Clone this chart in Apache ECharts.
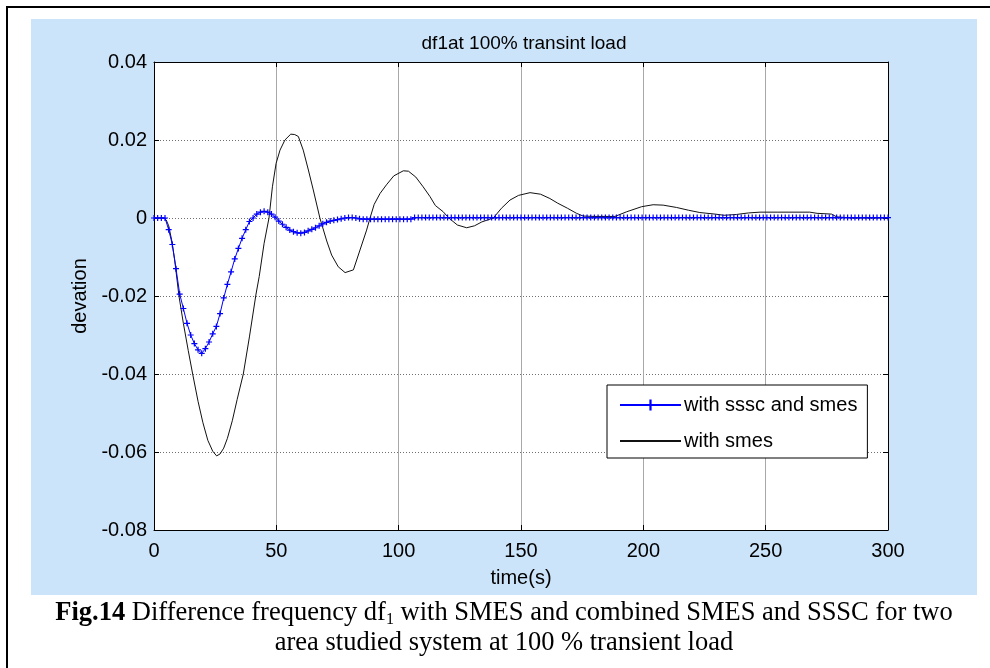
<!DOCTYPE html>
<html>
<head>
<meta charset="utf-8">
<script src="https://cdn.jsdelivr.net/npm/echarts@6/dist/echarts.min.js"></script>
<style>
html,body{margin:0;padding:0;background:#fff;}
#chart{width:990px;height:668px;}
</style>
</head>
<body>
<div id="chart"></div>
<script>
// ---------------- data ----------------
const chartTitle = 'df1at 100% transint load';
const xAxisName = 'time(s)';
const yAxisName = 'devation';
const seriesNames = ['with sssc and smes', 'with smes'];

const xTickValues = [0, 50, 100, 150, 200, 250, 300];
const xTickLabels = ['0', '50', '100', '150', '200', '250', '300'];
const yTickValues = [-0.08, -0.06, -0.04, -0.02, 0, 0.02, 0.04];
const yTickLabels = ['-0.08', '-0.06', '-0.04', '-0.02', '0', '0.02', '0.04'];

// with smes (black)
const smesTime = [0,4,5,6,7.2,8.5,10.2,12,14,15.8,18,20,22,24,25.6,27,28.5,30,32,34,36.5,39,41.7,43,45,47,48.4,49.9,51.5,53.5,55.9,57.5,59,61,63.1,65.1,67.8,70.6,72.6,75.3,78.1,81.5,84.2,86.9,88.3,90,92.4,95,98,101.9,104,107,110,112.8,115,118.2,120.5,124,127.8,131,134,138.7,142,145.5,149,153.7,158,161.8,165,169,172.7,175.4,180,188.4,193.2,199.3,204,208.1,213.6,218.4,223.1,229.3,233,238,243,247.7,255,262,268,271,276.9,279,285,300];
const smesValue = [0,0,-0.0005,-0.002,-0.0056,-0.011,-0.02,-0.027,-0.034,-0.04,-0.047,-0.0525,-0.057,-0.0598,-0.061,-0.0605,-0.059,-0.0565,-0.052,-0.0465,-0.04,-0.0305,-0.0195,-0.015,-0.0065,0,0.008,0.014,0.0174,0.02,0.0215,0.0214,0.0209,0.0174,0.0123,0.0072,0,-0.0059,-0.0095,-0.0125,-0.014,-0.0133,-0.0082,-0.0031,0,0.0035,0.0063,0.0085,0.0108,0.0121,0.012,0.0105,0.008,0.0055,0.0032,0.0016,0,-0.0018,-0.0025,-0.002,-0.001,0,0.0025,0.0046,0.0058,0.0065,0.0061,0.005,0.0038,0.0025,0.0012,0.0005,0.0004,0.0004,0.0016,0.0029,0.0034,0.0033,0.0027,0.002,0.0014,0.001,0.0007,0.0009,0.0013,0.0015,0.0015,0.0015,0.0015,0.0012,0.001,0.0003,0,0];

// with sssc and smes (blue, '+' markers)
const ssscTime = [
  0,1.5,3,4.5,6,7.5,9,10.5,12,13.5,
  15,16.5,18,19.5,21,22.5,24,25.5,27,28.5,
  30,31.5,33,34.5,36,37.5,39,40.5,42,43.5,
  45,46.5,48,49.5,51,52.5,54,55.5,57,58.5,
  60,61.5,63,64.5,66,67.5,69,70.5,72,73.5,
  75,76.5,78,79.5,81,82.5,84,85.5,87,88.5,
  90,91.5,93,94.5,96,97.5,99,100.5,102,103.5,
  105,106.5,108,109.5,111,112.5,114,115.5,117,118.5,
  120,121.5,123,124.5,126,127.5,129,130.5,132,133.5,
  135,136.5,138,139.5,141,142.5,144,145.5,147,148.5,
  150,151.5,153,154.5,156,157.5,159,160.5,162,163.5,
  165,166.5,168,169.5,171,172.5,174,175.5,177,178.5,
  180,181.5,183,184.5,186,187.5,189,190.5,192,193.5,
  195,196.5,198,199.5,201,202.5,204,205.5,207,208.5,
  210,211.5,213,214.5,216,217.5,219,220.5,222,223.5,
  225,226.5,228,229.5,231,232.5,234,235.5,237,238.5,
  240,241.5,243,244.5,246,247.5,249,250.5,252,253.5,
  255,256.5,258,259.5,261,262.5,264,265.5,267,268.5,
  270,271.5,273,274.5,276,277.5,279,280.5,282,283.5,
  285,286.5,288,289.5,291,292.5,294,295.5,297,298.5,
  300
];
const ssscValue = [
  0,0,0,0,-0.003,-0.0068,-0.013,-0.0195,-0.0232,-0.027,
  -0.030,-0.0322,-0.0338,-0.0347,-0.0335,-0.0318,-0.0297,-0.0278,-0.0245,-0.0205,
  -0.017,-0.0138,-0.0105,-0.0078,-0.0052,-0.003,-0.0009,0,0.001,0.0015,
  0.0017,0.0015,0.001,0.0002,-0.0008,-0.0016,-0.0024,-0.0031,-0.0035,-0.0038,
  -0.0039,-0.0037,-0.0033,-0.0029,-0.0025,-0.002,-0.0015,-0.0011,-0.0008,-0.0006,
  -0.0004,-0.0002,0,0.0001,0.0001,0,-0.0002,-0.0003,-0.0003,-0.0003,
  -0.0003,-0.0003,-0.0003,-0.0003,-0.0003,-0.0003,-0.0003,-0.0003,-0.0003,-0.0003,
  -0.0003,0.0001,0.0001,0.0001,0.0001,0.0001,0.0001,0.0001,0.0001,0.0001,
  0.0001,0.0001,0.0001,0.0001,0.0001,0.0001,0.0001,0.0001,0.0001,0.0001,
  0.0001,0.0001,0.0001,0.0001,0.0001,0.0001,0.0001,0.0001,0.0001,0.0001,
  0.0001,0.0001,0.0001,0.0001,0.0001,0.0001,0.0001,0.0001,0.0001,0.0001,
  0.0001,0.0001,0.0001,0.0001,0.0001,0.0001,0.0001,0.0001,0.0001,0.0001,
  0.0001,0.0001,0.0001,0.0001,0.0001,0.0001,0.0001,0.0001,0.0001,0.0001,
  0.0001,0.0001,0.0001,0.0001,0.0001,0.0001,0.0001,0.0001,0.0001,0.0001,
  0.0001,0.0001,0.0001,0.0001,0.0001,0.0001,0.0001,0.0001,0.0001,0.0001,
  0.0001,0.0001,0.0001,0.0001,0.0001,0.0001,0.0001,0.0001,0.0001,0.0001,
  0.0001,0.0001,0.0001,0.0001,0.0001,0.0001,0.0001,0.0001,0.0001,0.0001,
  0.0001,0.0001,0.0001,0.0001,0.0001,0.0001,0.0001,0.0001,0.0001,0.0001,
  0.0001,0.0001,0.0001,0.0001,0.0001,0.0001,0.0001,0.0001,0.0001,0.0001,
  0.0001,0.0001,0.0001,0.0001,0.0001,0.0001,0.0001,0.0001,0.0001,0.0001,
  0.0001
];

const captionBold = 'Fig.14';
const captionLine1a = ' Difference frequency df';
const captionSub = '1';
const captionLine1b = ' with SMES and combined SMES and SSSC for two';
const captionLine2 = 'area studied system at 100 % transient load';

// ---------------- chart ----------------
function pairs(t, v) {
  const n = Math.min(t.length, v.length);
  const out = [];
  for (let i = 0; i < n; i++) out.push([t[i], v[i]]);
  return out;
}
function lookup(values, labels) {
  return function (v) {
    for (let i = 0; i < values.length; i++) {
      if (Math.abs(values[i] - v) < 1e-9) return labels[i];
    }
    return '';
  };
}

const SANS = '"Liberation Sans", Arial, Helvetica, sans-serif';
const SERIF = '"Liberation Serif", "Times New Roman", serif';
const plusPath = 'path://M4,0h2v4h4v2h-4v4h-2v-4h-4v-2h4z';

const chart = echarts.init(document.getElementById('chart'), null, { renderer: 'canvas' });

const axisCommon = {
  type: 'value',
  axisLine: { show: true, onZero: false, lineStyle: { color: '#000', width: 1 } },
  axisTick: { show: true, inside: true, length: 5, lineStyle: { color: '#000', width: 1 } },
  minorTick: { show: false }
};

const option = {
  animation: false,
  backgroundColor: '#ffffff',
  title: {
    text: chartTitle,
    left: 519,
    textAlign: 'center',
    top: 29,
    textStyle: { fontFamily: SANS, fontSize: 19, fontWeight: 'normal', color: '#000' }
  },
  grid: {
    left: 154, top: 62, right: 102, bottom: 138,
    containLabel: false,
    show: true, backgroundColor: '#ffffff', borderWidth: 0
  },
  legend: {
    data: [
      { name: seriesNames[0] },
      { name: seriesNames[1], itemStyle: { opacity: 0 } }
    ],
    orient: 'vertical',
    left: 607,
    top: 385,
    padding: [10, 10, 7, 12],
    itemGap: 16,
    itemWidth: 61,
    itemHeight: 14,
    backgroundColor: '#ffffff',
    borderColor: '#000',
    borderWidth: 1,
    borderRadius: 0,
    textStyle: { fontFamily: SANS, fontSize: 20, color: '#000', padding: [0, 0, 0, -2] }
  },
  xAxis: [
    Object.assign({}, axisCommon, {
      position: 'bottom',
      min: 0, max: 300, interval: 50,
      name: xAxisName,
      nameLocation: 'middle',
      nameGap: 38,
      nameTextStyle: { fontFamily: SANS, fontSize: 20, color: '#000' },
      axisLabel: { show: true, margin: 11, fontFamily: SANS, fontSize: 20, color: '#000',
                   formatter: lookup(xTickValues, xTickLabels) },
      splitLine: { show: true, lineStyle: { color: '#a8a8a8', width: 1, type: 'solid' } }
    }),
    Object.assign({}, axisCommon, {
      position: 'top',
      min: 0, max: 300, interval: 50,
      axisLabel: { show: false },
      splitLine: { show: false }
    })
  ],
  yAxis: [
    Object.assign({}, axisCommon, {
      position: 'left',
      min: -0.08, max: 0.04, interval: 0.02,
      name: yAxisName,
      nameLocation: 'middle',
      nameGap: 58,
      nameTextStyle: { fontFamily: SANS, fontSize: 20, color: '#000' },
      axisLabel: { show: true, margin: 7, fontFamily: SANS, fontSize: 20, color: '#000',
                   formatter: lookup(yTickValues, yTickLabels) },
      splitLine: { show: true, lineStyle: { color: '#707070', width: 1, type: [1, 2] } }
    }),
    Object.assign({}, axisCommon, {
      position: 'right',
      min: -0.08, max: 0.04, interval: 0.02,
      axisLabel: { show: false },
      splitLine: { show: false }
    })
  ],
  series: [
    {
      name: seriesNames[1],
      type: 'line',
      xAxisIndex: 0, yAxisIndex: 0,
      data: pairs(smesTime, smesValue),
      showSymbol: false,
      symbol: 'none',
      lineStyle: { color: '#111', width: 1 },
      itemStyle: { color: '#111' },
      z: 3
    },
    {
      name: seriesNames[0],
      type: 'line',
      xAxisIndex: 0, yAxisIndex: 0,
      data: pairs(ssscTime, ssscValue),
      showSymbol: true,
      showAllSymbol: true,
      symbol: plusPath,
      symbolSize: 6,
      lineStyle: { color: '#0000ff', width: 1 },
      itemStyle: { color: '#0000ff' },
      z: 4
    }
  ],
  graphic: [
    { type: 'rect', z: -10, silent: true,
      shape: { x: 31, y: 19, width: 946, height: 576 },
      style: { fill: '#cce4fa' } },
    { type: 'line', z: 10, silent: true,
      shape: { x1: 6, y1: 7, x2: 990, y2: 7 },
      style: { stroke: '#000', lineWidth: 2 } },
    { type: 'line', z: 10, silent: true,
      shape: { x1: 7, y1: 6, x2: 7, y2: 668 },
      style: { stroke: '#000', lineWidth: 2 } },
    { type: 'text', z: 10, silent: true,
      style: {
        x: 504, y: 613, align: 'center', verticalAlign: 'middle',
        text: '{b|' + captionBold + '}{n|' + captionLine1a + '}{s|' + captionSub + '}{n|' + captionLine1b + '}',
        rich: {
          b: { fontFamily: SERIF, fontSize: 26.5, fontWeight: 'bold', fill: '#000', lineHeight: 30 },
          n: { fontFamily: SERIF, fontSize: 26.5, fill: '#000', lineHeight: 30 },
          s: { fontFamily: SERIF, fontSize: 16, fill: '#000', lineHeight: 14, verticalAlign: 'bottom' }
        }
      } },
    { type: 'text', z: 10, silent: true,
      style: {
        x: 504, y: 643, align: 'center', verticalAlign: 'middle',
        text: captionLine2,
        fontFamily: SERIF, fontSize: 26.5, fill: '#000'
      } }
  ]
};

chart.setOption(option);
</script>
</body>
</html>
